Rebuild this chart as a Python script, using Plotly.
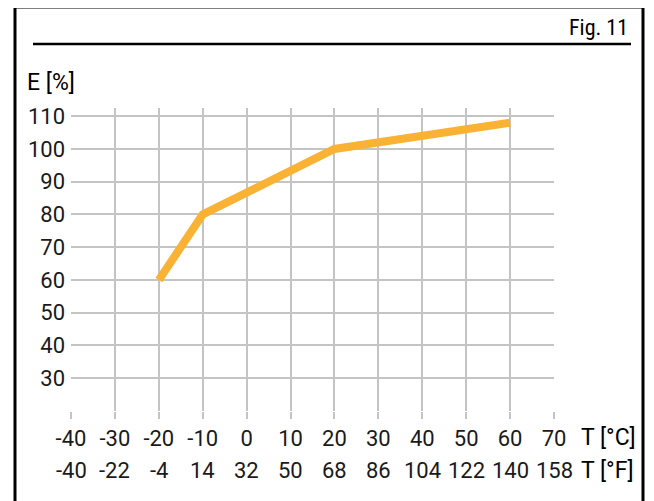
import plotly.graph_objects as go

# Data
temp_c = [-20, -10, 20, 60]
efficiency = [60, 80, 100, 108]

x_ticks_c = [-40, -30, -20, -10, 0, 10, 20, 30, 40, 50, 60, 70]
x_ticks_f = ["-40", "-22", "-4", "14", "32", "50", "68", "86", "104", "122", "140", "158"]
y_ticks = [30, 40, 50, 60, 70, 80, 90, 100, 110]

# page body has an 8px margin; work in window pixel coordinates
OFF = 8
W, H = 654 - OFF, 501 - OFF
ML, MT = 71 - OFF, 108 - OFF
PW = 554 - 71
PH = 411 - 108
MR = W - ML - PW
MB = H - MT - PH

def px(x):
    return (x - OFF - ML) / PW

def py(y):
    return (MT + PH - (y - OFF)) / PH

FONT = "Roboto"
GRID = "#c4c4c4"
TXT = "#1a1a1a"

fig = go.Figure()
fig.add_trace(go.Scatter(
    x=temp_c, y=efficiency, mode="lines",
    line=dict(color="#F9B233", width=8),
    hoverinfo="skip", showlegend=False,
))

fig.update_layout(
    width=W, height=H,
    margin=dict(l=ML, r=MR, t=MT, b=MB),
    paper_bgcolor="white", plot_bgcolor="white",
    font=dict(family=FONT, size=22, color=TXT),
    xaxis=dict(
        range=[-40, 70], tickvals=x_ticks_c, ticktext=[str(v) for v in x_ticks_c],
        showgrid=True, gridcolor=GRID, gridwidth=1.5, zeroline=False,
        showline=False, ticks="outside", ticklen=7, tickcolor=GRID, tickwidth=1.5,
        ticklabelstandoff=1,
        tickfont=dict(family=FONT, size=22, color=TXT),
        fixedrange=True,
    ),
    yaxis=dict(
        range=[20, 112.5], tickvals=[20] + y_ticks, ticktext=[""] + [str(v) for v in y_ticks],
        showgrid=True, gridcolor=GRID, gridwidth=1.5, zeroline=False,
        showline=False, ticks="", ticklabelstandoff=5,
        tickfont=dict(family=FONT, size=22, color=TXT),
        fixedrange=True,
    ),
)

# Fahrenheit row
for xc, tf in zip(x_ticks_c, x_ticks_f):
    fig.add_annotation(x=xc, y=0, xref="x", yref="paper", text=tf, showarrow=False,
                       yshift=-59, xanchor="center", yanchor="middle",
                       font=dict(family=FONT, size=22, color=TXT))

# Axis titles
fig.add_annotation(x=px(579), y=py(437), xref="paper", yref="paper", text="T [°C]",
                   showarrow=False, xanchor="left", yanchor="middle",
                   font=dict(family=FONT, size=23, color="#000"))
fig.add_annotation(x=px(579), y=py(470), xref="paper", yref="paper", text="T [°F]",
                   showarrow=False, xanchor="left", yanchor="middle",
                   font=dict(family=FONT, size=23, color="#000"))
fig.add_annotation(x=px(25), y=py(82), xref="paper", yref="paper", text="E [%]",
                   showarrow=False, xanchor="left", yanchor="middle",
                   font=dict(family=FONT, size=23, color="#000"))
fig.add_annotation(x=px(630), y=py(27), xref="paper", yref="paper", text="Fig. 11",
                   showarrow=False, xanchor="right", yanchor="middle",
                   font=dict(family="Roboto Condensed, Roboto", size=22, color="#000"))

# Frame and underline
line_k = dict(color="black", width=3)
fig.add_shape(type="line", xref="paper", yref="paper", x0=px(15), x1=px(15), y0=py(7), y1=py(510), line=line_k)
fig.add_shape(type="line", xref="paper", yref="paper", x0=px(15), x1=px(643), y0=py(7), y1=py(7), line=line_k)
fig.add_shape(type="line", xref="paper", yref="paper", x0=px(643), x1=px(643), y0=py(7), y1=py(510), line=line_k)
fig.add_shape(type="line", xref="paper", yref="paper", x0=px(33), x1=px(631), y0=py(44), y1=py(44),
              line=dict(color="black", width=2.5))

fig.write_html("out.html")
